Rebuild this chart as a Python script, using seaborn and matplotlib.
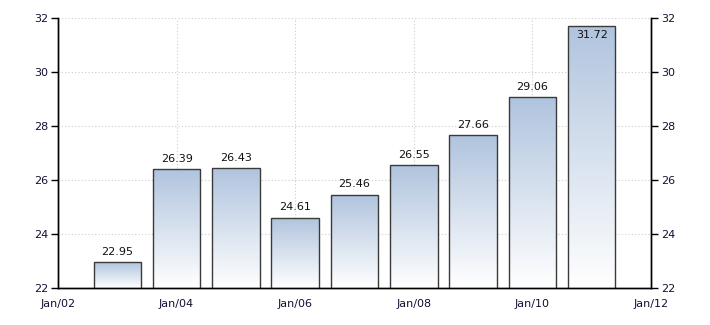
import numpy as np
import pandas as pd
import matplotlib
matplotlib.use("Agg")
import matplotlib.pyplot as plt
import seaborn as sns
from matplotlib.colors import LinearSegmentedColormap

years = [2003, 2004, 2005, 2006, 2007, 2008, 2009, 2010, 2011]
values = [22.95, 26.39, 26.43, 24.61, 25.46, 26.55, 27.66, 29.06, 31.72]
xtick_pos = [2002, 2004, 2006, 2008, 2010, 2012]
xtick_labels = ["Jan/02", "Jan/04", "Jan/06", "Jan/08", "Jan/10", "Jan/12"]
ytick_pos = [22, 24, 26, 28, 30, 32]

sns.set_style("white")
plt.rcParams['font.family'] = ['DejaVu Sans']

df = pd.DataFrame({"year": years, "value": values})

fig = plt.figure(figsize=(7.10, 3.25), dpi=100)
ax = fig.add_axes([58/710, 1 - 288/325, (651-58)/710, (288-18)/325])

sns.barplot(data=df, x="year", y="value", native_scale=True, width=0.8,
            ax=ax, color="#b0c4de", edgecolor="#3a3a3a", linewidth=1.0,
            zorder=3)

ax.set_xlim(2002, 2012)
ax.set_ylim(22, 32)

cmap = LinearSegmentedColormap.from_list("g", ["#ffffff", "#b0c4de"])
grad = np.linspace(0, 1, 256).reshape(-1, 1)
for p in list(ax.patches):
    x0, y0 = p.get_x(), 22
    w = p.get_width()
    y1 = p.get_y() + p.get_height()
    p.set_facecolor("none")
    im = ax.imshow(grad, cmap=cmap, origin="lower", aspect="auto",
                   extent=(x0, x0 + w, y0, y1), zorder=2.5)
    im.set_clip_path(p)

for yr, v in zip(years, values):
    if v + 0.7 > 32:
        ax.text(yr, v - 0.15, f"{v:.2f}", ha="center", va="top", fontsize=8, color="#111111", zorder=5)
    else:
        ax.text(yr, v + 0.2, f"{v:.2f}", ha="center", va="bottom", fontsize=8, color="#111111", zorder=5)

ax.set_xticks(xtick_pos)
ax.set_xticklabels(xtick_labels)
ax.set_yticks(ytick_pos)
ax.grid(True, linestyle=(0, (1, 2)), color="#cccccc", linewidth=0.8, zorder=0)
ax.set_axisbelow(True)
ax.set_xlabel("")
ax.set_ylabel("")
ax.tick_params(axis="both", direction="out", length=5, width=1, color="black",
               labelsize=8, labelcolor="#111133", pad=2)
ax.tick_params(axis="x", pad=3)

ax2 = ax.twinx()
ax2.set_ylim(22, 32)
ax2.set_yticks(ytick_pos)
ax2.tick_params(axis="y", direction="out", length=5, width=1, color="black",
                labelsize=8, labelcolor="#111133", pad=2)

for a in (ax, ax2):
    a.spines["top"].set_visible(False)
    for s in ("left", "right", "bottom"):
        a.spines[s].set_visible(True)
        a.spines[s].set_color("black")
        a.spines[s].set_linewidth(1)

fig.savefig("out.png", dpi=100)
